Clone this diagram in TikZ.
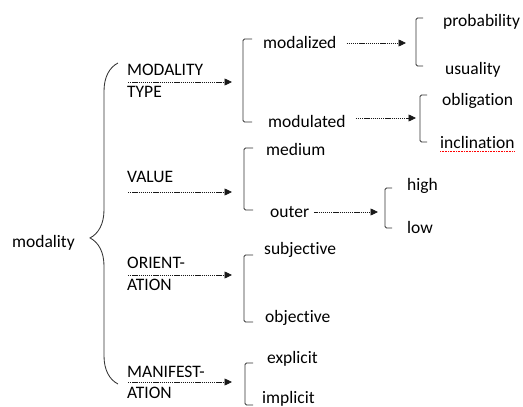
\documentclass[tikz,border=0pt]{standalone}
\usepackage{fontspec}
\setmainfont{Carlito}[Ligatures=NoCommon]
\usetikzlibrary{arrows.meta,decorations.pathreplacing,positioning,calc}

\begin{document}
\begin{tikzpicture}[x=1pt, y=-1pt,
    txt/.style={anchor=base west, inner sep=0pt, text=black, font=\fontsize{17.5}{21}\selectfont},
    arr/.style={line width=.7pt, black!90, dash pattern=on 1.3pt off .8pt, -{Triangle[length=7.5pt, width=7pt]}},
    brk/.style={line width=.85pt, black!80, rounded corners=1.5pt}]
  \useasboundingbox (0,0) rectangle (523,407);

  \node[txt] (modality) at (12,247) {modality};

  \node[txt] (modtype) at (127,75) {MODALITY};
  \node[txt] (modtype2) at (127,97) {TYPE};
  \node[txt] (value) at (127,182) {VALUE};
  \node[txt] (orient) at (127,268) {ORIENT-};
  \node[txt] (orient2) at (127,290) {ATION};
  \node[txt] (manif) at (127,377) {MANIFEST-};
  \node[txt] (manif2) at (127,398) {ATION};

  \node[txt] (modalized) at (263,48) {modalized};
  \node[txt] (modulated) at (268,127) {modulated};
  \node[txt] (medium) at (266,155) {medium};
  \node[txt] (outer) at (270,217) {outer};
  \node[txt] (subj) at (264,254) {subjective};
  \node[txt] (obj) at (265,322) {objective};
  \node[txt] (expl) at (267,363) {explicit};
  \node[txt] (impl) at (262,403) {implicit};

  \node[txt] (prob) at (443,26) {probability};
  \node[txt] (usual) at (445,74) {usuality};
  \node[txt] (oblig) at (442,105) {obligation};
  \node[txt] (incl) at (440,148) {inclination};
  \node[txt] (high) at (407,190) {high};
  \node[txt] (low) at (407,233) {low};

  \draw[red, densely dotted, line width=.6pt] ($(incl.base west)+(0,3)$) -- ($(incl.base east)+(0,3)$);

  \draw[brk, rounded corners=0pt, decorate, decoration={brace, amplitude=28pt, aspect=.455}]
    (118,384) -- (118,63);

  \draw[brk] (252,39) -| (243,122) -- (252,122);
  \draw[brk] (253,148) -| (244,210) -- (253,210);
  \draw[brk] (253,255) -| (244,322) -- (253,322);
  \draw[brk] (253,363) -| (245,405) -- (253,405);
  \draw[brk] (423,18) -| (416,66) -- (423,66);
  \draw[brk] (427,95) -| (420,142) -- (427,142);
  \draw[brk] (392,188) -| (385,228) -- (392,228);

  \coordinate (t1) at (128,82);   \coordinate (h1) at (232,82);
  \coordinate (t2) at (128,192);  \coordinate (h2) at (232,192);
  \coordinate (t3) at (128,275);  \coordinate (h3) at (232,275);
  \coordinate (t4) at (128,382);  \coordinate (h4) at (232,382);

  \draw[arr] (t1) -- (h1);
  \draw[arr] (t2) -- (h2);
  \draw[arr] (t3) -- (h3);
  \draw[arr] (t4) -- (h4);

  \coordinate (h5) at (406,43);
  \coordinate (h6) at (416,118);
  \coordinate (h7) at (378,212);

  \draw[arr, shorten <=10pt] (modalized.east |- h5) -- (h5);
  \draw[arr, shorten <=10pt] (modulated.east |- h6) -- (h6);
  \draw[arr, shorten <=5pt] (outer.east |- h7) -- (h7);
\end{tikzpicture}
\end{document}
